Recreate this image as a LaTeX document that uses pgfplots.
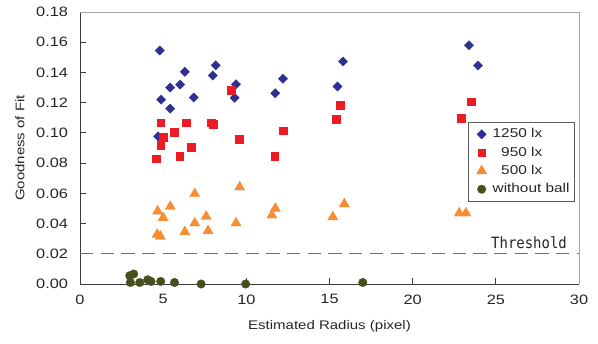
\documentclass[border=0pt]{standalone}
\usepackage{fontspec}
\setmainfont[FakeStretch=1.2]{Liberation Sans}
\newfontfamily\thrfont[FakeStretch=0.9]{DejaVu Sans Mono}
\usepackage{pgfplots}
\pgfplotsset{compat=1.18}
\definecolor{cblue}{RGB}{46,49,146}
\definecolor{cred}{RGB}{237,28,36}
\definecolor{corange}{RGB}{247,140,50}
\definecolor{colive}{RGB}{72,79,30}
\definecolor{thresholdblue}{RGB}{25,130,215}
\definecolor{axisgray}{RGB}{60,60,60}
\definecolor{bordergray}{RGB}{165,165,170}
\definecolor{legendgray}{RGB}{90,90,90}
\begin{document}
\begin{tikzpicture}
\begin{axis}[
  name=ax,
  scale only axis, width=499pt, height=272pt,
  xmin=0, xmax=30, ymin=0, ymax=0.18,
  xtick={0,5,10,15,20,25,30},
  ytick={0,0.02,0.04,0.06,0.08,0.10,0.12,0.14,0.16,0.18},
  axis x line*=bottom, axis y line*=left,
  axis line style={-, draw=axisgray, line width=0.8pt},
  tick align=inside, major tick length=5.5pt,
  tick style={draw=axisgray, line width=0.8pt},
  clip=false,
  /pgf/number format/assume math mode=true,
  tick label style={font=\fontsize{13.6}{15}\selectfont, text=black!85},
  yticklabel style={/pgf/number format/fixed, /pgf/number format/fixed zerofill, /pgf/number format/precision=2, xshift=-8.5pt},
  xticklabel style={yshift=-7pt},
  xlabel={Estimated Radius (pixel)}, ylabel={Goodness of Fit},
  label style={font=\fontsize{12.5}{14}\selectfont, text=black!85},
  xlabel style={at={(axis description cs:0.5,-0.154)}, anchor=center},
  ylabel style={at={(axis description cs:-0.1202,0.5)}, anchor=center},
  legend cell align=left,
  legend image code/.code={\path[draw=none,fill=none] (0pt,0pt) (19.5pt,0pt); \path[#1,draw=none] plot[mark repeat=1] coordinates {(10pt,0pt)};},
  legend style={at={(rel axis cs:0.778,0.596)}, anchor=north west, draw=legendgray, line width=0.9pt,
    font=\fontsize{12.8}{14}\selectfont, text=black!85, inner xsep=3pt, inner ysep=4pt, row sep=2.3pt, column sep=0pt,
    nodes={inner sep=1.5pt, text height=10pt, text depth=3pt}},
]
\addplot[forget plot, draw=thresholdblue, line width=1.2pt, dash pattern=on 13.3pt off 7.4pt] coordinates {(0,0.02) (30,0.02)};

\addplot[only marks, color=cblue, mark=square*, mark size=3.3pt, mark options={rotate=45, line width=0.3pt, draw=cblue, fill=cblue}] coordinates {
(4.7,0.0977) (4.79,0.1545) (4.88,0.122) (5.42,0.130) (5.42,0.116) (6.02,0.132)
(6.3,0.1404) (6.84,0.1234) (7.98,0.138) (8.16,0.1448) (9.3,0.1232) (9.38,0.1322)
(11.74,0.1262) (12.2,0.1358) (15.48,0.1307) (15.81,0.1472) (23.39,0.158) (23.93,0.1446)
};
\addlegendentry{1250 lx}

\addplot[only marks, color=cred, mark=square*, mark size=3.9pt, mark options={line width=0.3pt, draw=cred, fill=cred}] coordinates {
(4.6,0.083) (4.85,0.092) (4.85,0.1068) (5.0,0.0971) (5.68,0.1007) (5.99,0.0848)
(6.4,0.1068) (6.68,0.0905) (7.9,0.1068) (8.0,0.1058) (9.08,0.1282) (9.56,0.0956)
(11.7,0.0848) (12.2,0.1015) (15.39,0.1093) (15.65,0.1185) (22.9,0.110) (23.5,0.1207)
};
\addlegendentry{\hphantom{1}950 lx}

\addplot[only marks, color=corange, mark=triangle*, mark size=5.9pt, mark options={line width=0.3pt, draw=corange, fill=corange}] coordinates {
(4.64,0.0328) (4.67,0.0482) (4.83,0.0315) (5.0,0.0438) (5.43,0.0513) (6.3,0.0345)
(6.9,0.0597) (6.9,0.0403) (7.58,0.0447) (7.7,0.0352) (9.38,0.0403) (9.6,0.0641)
(11.54,0.0456) (11.74,0.050) (15.2,0.0444) (15.89,0.053) (22.8,0.0469) (23.2,0.0469)
};
\addlegendentry{\hphantom{1}500 lx}

\addplot[only marks, color=colive, mark=*, mark size=4.3pt, mark options={line width=0.3pt, draw=colive, fill=colive}] coordinates {
(2.99,0.0055) (3.03,0.001) (3.23,0.0066) (3.59,0.001) (4.07,0.0028) (4.27,0.0017)
(4.85,0.0017) (5.68,0.001) (7.28,0.0) (9.96,0.0) (17.0,0.001)
};
\addlegendentry{without ball}

\node[font=\thrfont\fontsize{15.5}{17}\selectfont, anchor=base east, text=black!85, inner sep=0pt] at (axis cs:29.28,0.0238) {Threshold};
\end{axis}
\draw[bordergray, line width=0.8pt] (ax.north west) -- (ax.north east) -- (ax.south east);
\pgfresetboundingbox
\path[use as bounding box] ([xshift=-80pt,yshift=-60pt]ax.south west) rectangle ([xshift=19pt,yshift=12pt]ax.north east);
\end{tikzpicture}
\end{document}
